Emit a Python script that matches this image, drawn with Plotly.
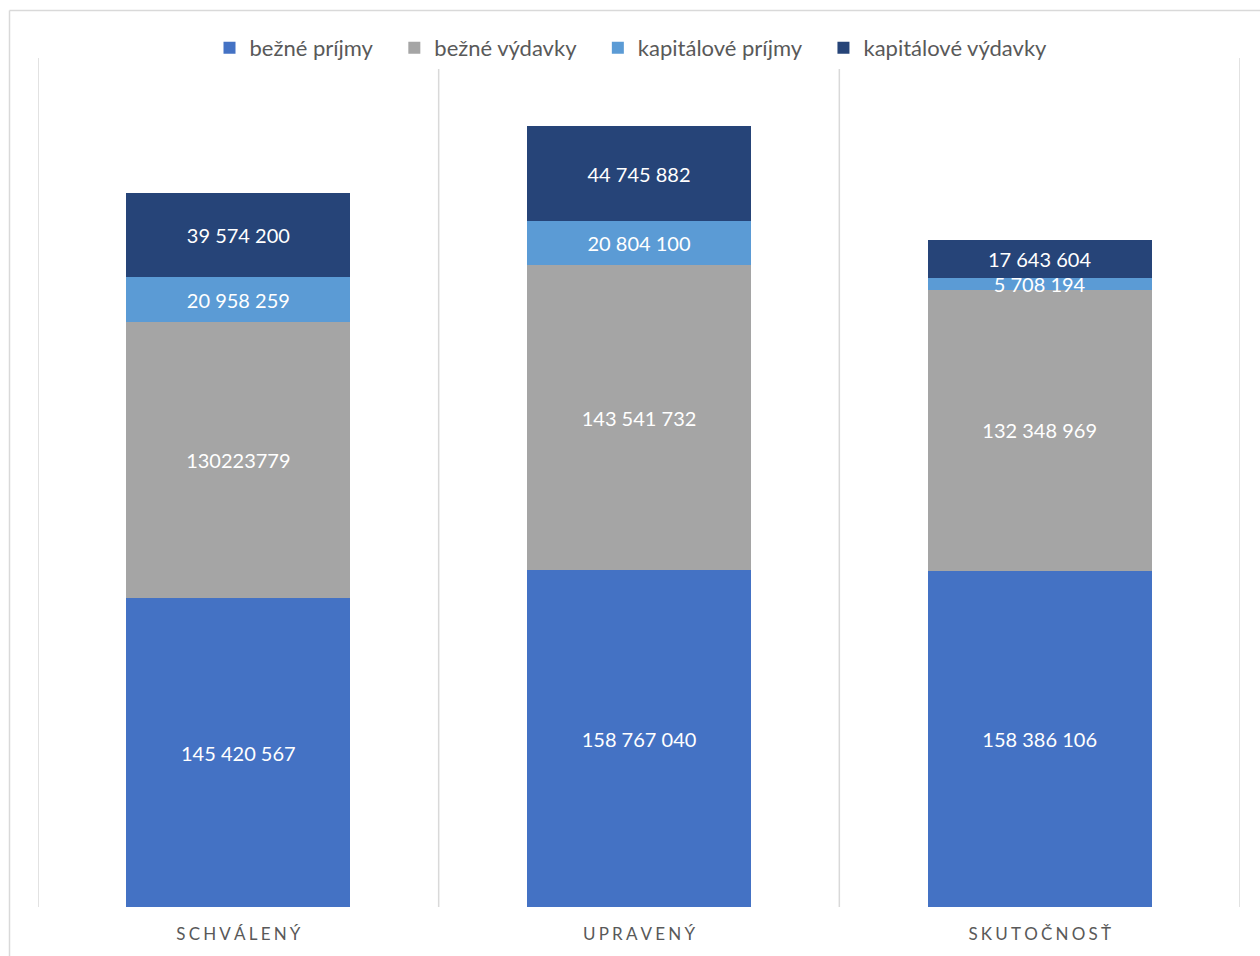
import plotly.graph_objects as go

categories = ["SCHVÁLENÝ", "UPRAVENÝ", "SKUTOČNOSŤ"]
series_names = ["bežné príjmy", "bežné výdavky", "kapitálové príjmy", "kapitálové výdavky"]
bezne_prijmy = [145420567, 158767040, 158386106]
bezne_vydavky = [130223779, 143541732, 132348969]
kapitalove_prijmy = [20958259, 20804100, 5708194]
kapitalove_vydavky = [39574200, 44745882, 17643604]
labels_bezne_prijmy = ["145 420 567", "158 767 040", "158 386 106"]
labels_bezne_vydavky = ["130223779", "143 541 732", "132 348 969"]
labels_kap_prijmy = ["20 958 259", "20 804 100", "5 708 194"]
labels_kap_vydavky = ["39 574 200", "44 745 882", "17 643 604"]

colors = ["#4472C4", "#A5A5A5", "#5B9BD5", "#264478"]
values = [bezne_prijmy, bezne_vydavky, kapitalove_prijmy, kapitalove_vydavky]
texts = [labels_bezne_prijmy, labels_bezne_vydavky, labels_kap_prijmy, labels_kap_vydavky]

FONT = "Lato"
W, H = 1260, 956
ML, MR, MT, MB = 38, 20, 58, 47
pw = W - ML - MR
ph = H - MT - MB

spaced = ["\u2009\u200a".join(list(c)) for c in categories]

fig = go.Figure()
for name, vals, txt, col in zip(series_names, values, texts, colors):
    fig.add_trace(go.Bar(
        x=spaced, y=vals, name=name + "   ", text=txt,
        textposition="inside", insidetextanchor="middle",
        textfont=dict(color="white", size=20, family=FONT),
        marker=dict(color=col, line=dict(width=0)),
        hoverinfo="skip",
    ))

shapes = []
for xv in [-0.5, 0.5, 1.5, 2.5]:
    shapes.append(dict(type="line", xref="x", yref="paper", x0=xv, x1=xv, y0=0, y1=1,
                       line=dict(color="#D9D9D9", width=1.5), layer="below"))
# outer chart border (left and top)
bx0 = (9.5 - ML) / pw
by_top = 1 + (MT - 10.5) / ph
shapes.append(dict(type="line", xref="paper", yref="paper", x0=bx0, x1=(W + 5 - ML) / pw,
                   y0=by_top, y1=by_top, line=dict(color="#D9D9D9", width=1.5)))
shapes.append(dict(type="line", xref="paper", yref="paper", x0=bx0, x1=bx0,
                   y0=by_top, y1=-(MB + 5) / ph, line=dict(color="#D9D9D9", width=1.5)))

fig.update_layout(
    width=W, height=H,
    margin=dict(l=ML, r=MR, t=MT, b=MB),
    barmode="stack", bargap=0.441,
    plot_bgcolor="white", paper_bgcolor="white",
    shapes=shapes,
    uniformtext=dict(minsize=20, mode="show"),
    legend=dict(orientation="h", x=0.5, xanchor="center", y=1 + (MT - 48) / ph, yanchor="middle",
                font=dict(size=22, family=FONT, color="#595959"), traceorder="normal",
                itemwidth=30),
    xaxis=dict(range=[-0.5, 2.5], showgrid=False, showline=False, zeroline=False,
               ticks="outside", ticklen=12, tickcolor="rgba(0,0,0,0)",
               tickfont=dict(size=17, family=FONT, color="#595959")),
    yaxis=dict(range=[0, 400000000], visible=False, showgrid=False),
    showlegend=True,
)

fig.write_html("out.html", post_script="document.body.style.margin='0';",
               config={"displayModeBar": False})
